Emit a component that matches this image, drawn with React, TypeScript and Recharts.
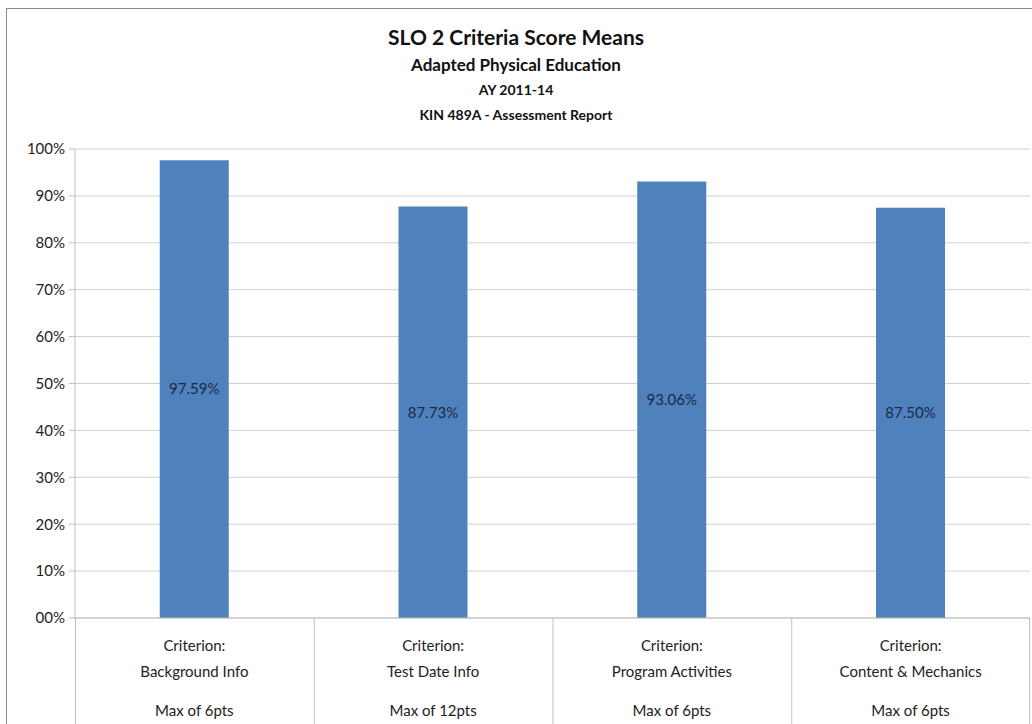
import React from "react";
import { BarChart, Bar, XAxis, YAxis, CartesianGrid, LabelList } from "recharts";

const criteria = ["Background Info", "Test Date Info", "Program Activities", "Content & Mechanics"];
const maxPoints = ["Max of 6pts", "Max of 12pts", "Max of 6pts", "Max of 6pts"];
const scoreMeans = [97.59, 87.73, 93.06, 87.5];
const yTicks = [0, 10, 20, 30, 40, 50, 60, 70, 80, 90, 100];

const data = criteria.map((name, i) => ({
  name,
  max: maxPoints[i],
  score: scoreMeans[i],
}));

const FONT = "Lato, 'Open Sans', sans-serif";

const CategoryTick = (props: any) => {
  const { x, y, index, visibleTicksCount } = props;
  const band = 237.75;
  const left = x - band / 2;
  const d = data[index];
  return (
    <g>
      <line x1={left} y1={y - 8} x2={left} y2={724} stroke="#bfbfbf" />
      {index === (visibleTicksCount ?? data.length) - 1 && (
        <line x1={left + band} y1={y - 8} x2={left + band} y2={724} stroke="#bfbfbf" />
      )}
      <text x={x} textAnchor="middle" fontFamily={FONT} fontSize={15} fill="#222">
        <tspan x={x} y={y + 25}>Criterion:</tspan>
        <tspan x={x} y={y + 51}>{d.name}</tspan>
        <tspan x={x} y={y + 90}>{d.max}</tspan>
      </text>
    </g>
  );
};

const App = () => {
  return (
    <div style={{ position: "absolute", left: 0, top: 0, width: 1032, height: 724, background: "#fff", overflow: "hidden" }}>
      <div
        style={{
          position: "absolute",
          left: 6,
          top: 8,
          width: 1040,
          height: 730,
          borderLeft: "1px solid #8c8c8c",
          borderTop: "1px solid #8c8c8c",
        }}
      />
      <div style={{ position: "absolute", left: 0, top: 22, width: 1032, textAlign: "center", fontFamily: FONT, color: "#111", fontWeight: 700 }}>
        <div style={{ fontSize: 21, lineHeight: "30px" }}>SLO 2 Criteria Score Means</div>
        <div style={{ fontSize: 17, lineHeight: "26px" }}>Adapted Physical Education</div>
        <div style={{ fontSize: 14, lineHeight: "24px" }}>AY 2011-14</div>
        <div style={{ fontSize: 14, lineHeight: "25px" }}>KIN 489A - Assessment Report</div>
      </div>
      <div style={{ position: "absolute", left: 0, top: 0 }}>
        <BarChart
          width={1032}
          height={724}
          data={data}
          margin={{ top: 149, right: 2, bottom: 0, left: 14 }}
          barCategoryGap="35.5%"
        >
          <CartesianGrid vertical={false} stroke="#d0d0d0" />
          <YAxis
            domain={[0, 100]}
            ticks={yTicks}
            width={61}
            tickFormatter={(v: number) => (v === 0 ? "00%" : `${v}%`)}
            tick={{ fontFamily: FONT, fontSize: 15, fill: "#222" }}
            axisLine={{ stroke: "#bfbfbf" }}
            tickLine={{ stroke: "#bfbfbf" }}
            tickSize={6}
            tickMargin={4}
          />
          <XAxis
            dataKey="name"
            height={106}
            interval={0}
            tick={<CategoryTick />}
            axisLine={{ stroke: "#bfbfbf" }}
            tickLine={false}
          />
          <Bar dataKey="score" fill="#4f81bd" isAnimationActive={false}>
            <LabelList
              dataKey="score"
              position="center"
              formatter={(v: any) => `${Number(v).toFixed(2)}%`}
              style={{ fontFamily: FONT, fontSize: 15, fill: "#1a2a48" }}
            />
          </Bar>
        </BarChart>
      </div>
    </div>
  );
};

export default App;
